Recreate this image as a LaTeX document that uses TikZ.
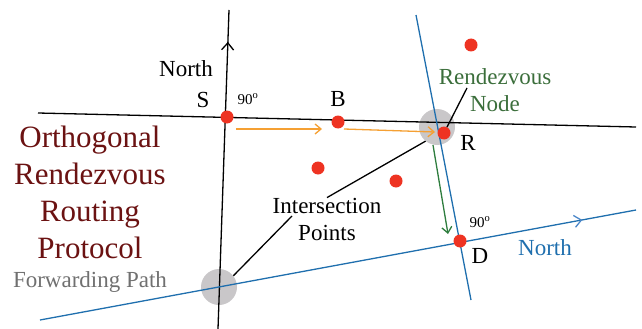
\documentclass[tikz,border=0pt]{standalone}
\usepackage{fontspec}
\setmainfont{Liberation Serif}
\usetikzlibrary{arrows.meta, decorations.markings}

\definecolor{dotred}{HTML}{EE3322}
\definecolor{lineblue}{HTML}{1F6FAE}
\definecolor{arrowblue}{HTML}{4A86C8}
\definecolor{zonegray}{HTML}{C9C7C9}
\definecolor{fwdorange}{HTML}{F5A033}
\definecolor{fwdgreen}{HTML}{2E7D3E}
\definecolor{textgreen}{HTML}{3B6E3B}
\definecolor{titlered}{HTML}{6B1212}
\definecolor{textgray}{HTML}{707070}

\begin{document}
\begin{tikzpicture}[
  x=1pt, y=-1pt,
  dot/.style={circle, fill=dotred, inner sep=0pt, minimum size=13pt},
  zone/.style={circle, fill=zonegray, inner sep=0pt, minimum size=36pt},
  lbl/.style={font=\fontsize{23}{27}\selectfont, inner sep=0pt},
  tiny/.style={font=\fontsize{15}{18}\selectfont, inner sep=0pt},
  axis/.style={line width=1.3pt},
  midarrow/.style 2 args={postaction={decorate}, decoration={markings,
      mark=at position #1 with {\arrow[#2]{Straight Barb[length=7pt, width=12pt, line width=1.3pt]}}}},
  fwd/.style={-{Straight Barb[length=6pt, width=10pt]}, line width=1.3pt},
  ptr/.style={line width=1.3pt}
]
  \useasboundingbox (0,0) rectangle (642,329);

  % Intersection zones
  \node[zone] (zoneR) at (437,127) {};
  \node[zone] (zoneL) at (219,287) {};

  % Line ends
  \coordinate (vtop) at (229,10);
  \coordinate (vbot) at (218,329);
  \coordinate (hleft) at (38,113);
  \coordinate (hright) at (636,127);
  \coordinate (btop) at (416,15);
  \coordinate (bbot) at (471,300);
  \coordinate (bleft) at (40,320);
  \coordinate (bright) at (636,210);

  % Orthogonal lines
  \draw[axis, midarrow={0.9}{black}] (vbot) -- (vtop);
  \draw[axis] (hleft) -- (hright);
  \draw[axis, lineblue] (btop) -- (bbot);
  \draw[axis, lineblue, midarrow={0.91}{arrowblue}] (bleft) -- (bright);

  % Nodes
  \node[dot] (S) at (227,117) {};
  \node[dot] (B) at (338,122) {};
  \node[dot] (R) at (444,133) {};
  \node[dot] (D) at (460,241) {};
  \node[dot] (n1) at (471,45) {};
  \node[dot] (n2) at (318,168) {};
  \node[dot] (n3) at (396,181) {};

  % Forwarding path
  \coordinate (o1) at (236,129);
  \coordinate (o2) at (322,129);
  \coordinate (o3) at (344,129);
  \coordinate (o4) at (435,132);
  \coordinate (g1) at (433,145);
  \coordinate (g2) at (448,234);
  \draw[fwd, fwdorange] (o1) -- (o2);
  \draw[fwd, fwdorange] (o3) -- (o4);
  \draw[fwd, fwdgreen] (g1) -- (g2);

  % Labels
  \node[lbl] (northS) at (186,69) {North};
  \node[lbl] (labS) at (203,100) {S};
  \node[tiny] (angS) at (248,99) {90\textsuperscript{o}};
  \node[lbl] (labB) at (338,99) {B};
  \node[lbl] (labR) at (468,143) {R};
  \node[tiny] (angD) at (480,222) {90\textsuperscript{o}};
  \node[lbl] (labD) at (480,256) {D};
  \node[lbl, text=lineblue] (northD) at (545,248) {North};
  \node[lbl, text=textgreen, align=center] (rdv) at (495,90.5) {Rendezvous\\Node};
  \node[lbl, align=center] (inter) at (327,219) {Intersection\\Points};
  \node[font=\fontsize{31}{37}\selectfont, text=titlered, align=center, inner sep=0pt] (title) at (90,192.5) {Orthogonal\\Rendezvous\\Routing\\Protocol};
  \node[lbl, text=textgray, anchor=base] (fpath) at (90,287) {Forwarding Path};

  % Pointers
  \coordinate (p1) at (467,88);
  \coordinate (p2) at (292,216);
  \draw[ptr] (p1) -- (R);
  \draw[ptr] (inter.north) -- (zoneR.231);
  \draw[ptr] (p2) -- (zoneL.38);

\end{tikzpicture}
\end{document}
